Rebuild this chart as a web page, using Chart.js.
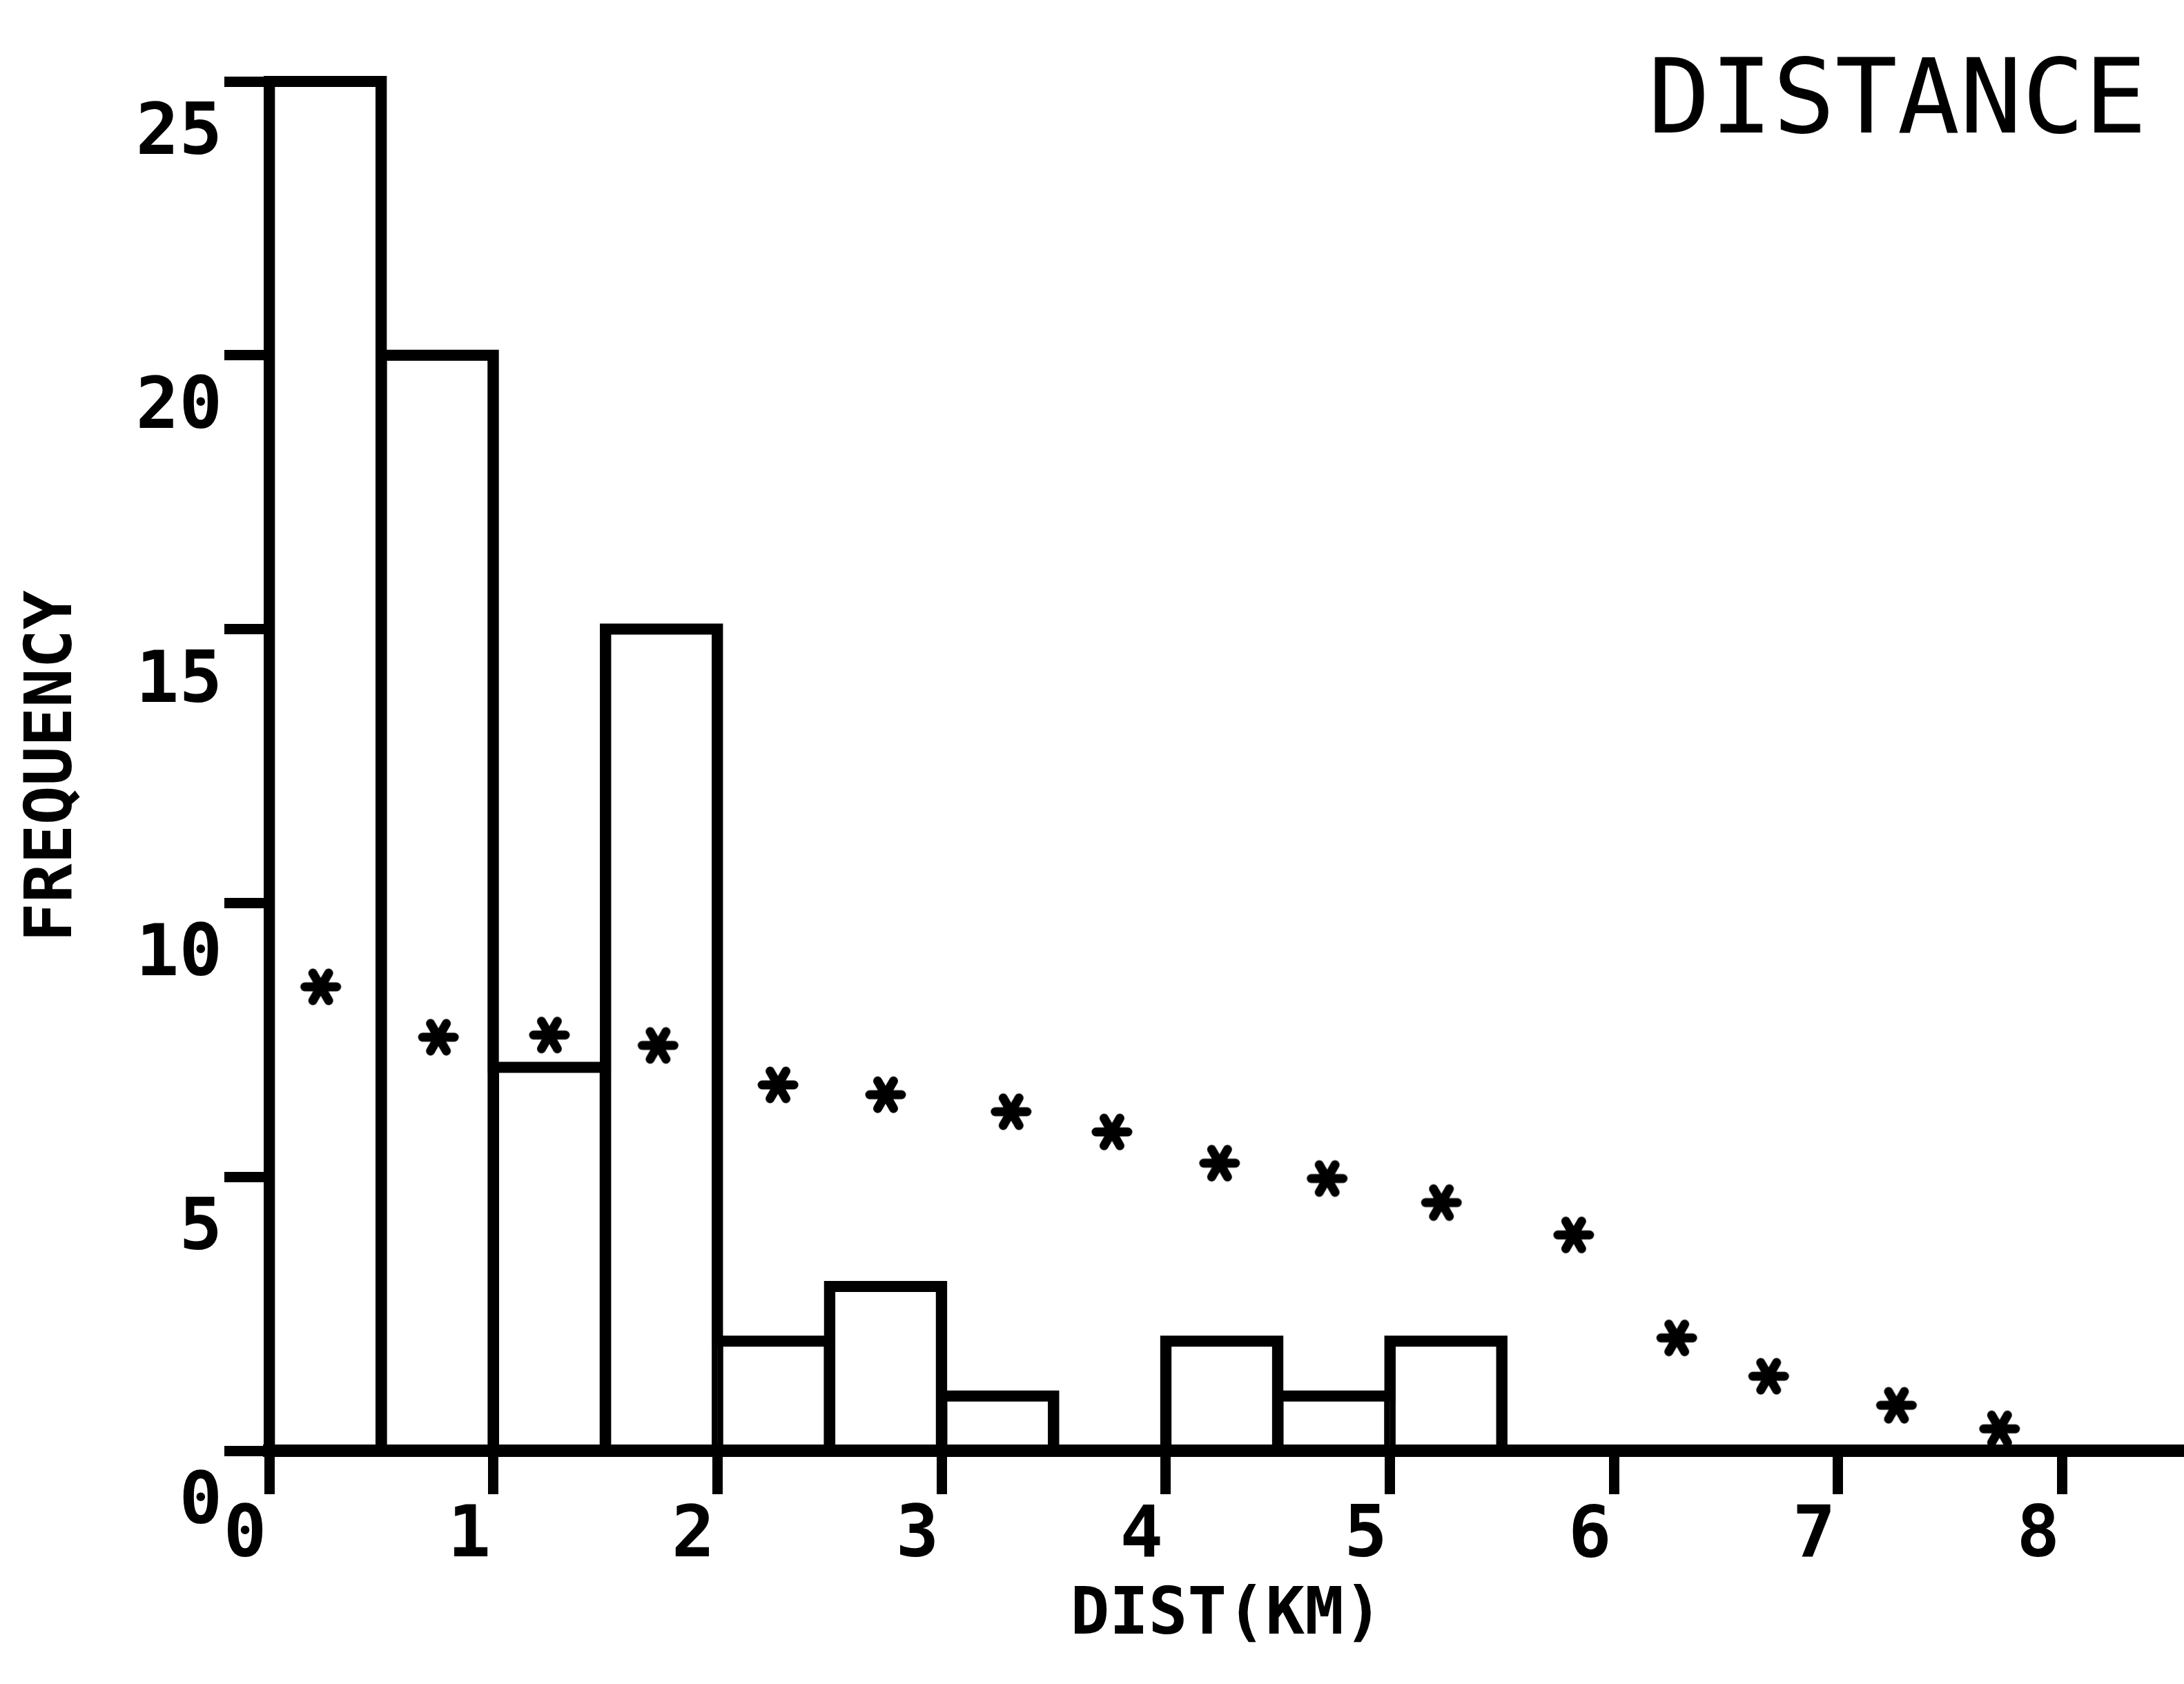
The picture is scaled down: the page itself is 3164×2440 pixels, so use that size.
<!DOCTYPE html>
<html>
<head>
<meta charset="utf-8">
<script src="https://cdn.jsdelivr.net/npm/chart.js@4/dist/chart.umd.min.js"></script>
<style>
html,body{margin:0;padding:0;background:#fff;}
#wrap{width:3164px;height:2440px;position:relative;background:#fff;}
canvas{display:block;}
</style>
</head>
<body>
<div id="wrap"><canvas id="c" width="3164" height="2440"></canvas></div>
<script>
// ---- data ----
const binStarts = [0, 0.5, 1, 1.5, 2, 2.5, 3, 3.5, 4, 4.5, 5];
const binWidth = 0.5;
const binCounts = [25, 20, 7, 15, 2, 3, 1, 0, 2, 1, 2];
const starX = [0.23, 0.755, 1.25, 1.735, 2.27, 2.75, 3.31, 3.76, 4.24, 4.72, 5.23, 5.82, 6.28, 6.69, 7.26, 7.72];
const starY = [8.47, 7.55, 7.59, 7.40, 6.68, 6.50, 6.19, 5.82, 5.25, 4.97, 4.53, 3.94, 2.06, 1.36, 0.83, 0.40];
const xTicks = [0, 1, 2, 3, 4, 5, 6, 7, 8];
const yTicks = [0, 5, 10, 15, 20, 25];
const chartTitle = 'DISTANCE';
const xTitle = 'DIST(KM)';
const yTitle = 'FREQUENCY';

// ---- derived structures ----
const barData = binStarts.map((s, i) => ({ x: s + binWidth / 2, y: binCounts[i] }));
const outline = [{ x: binStarts[0], y: 0 }]
  .concat(binStarts.map((s, i) => ({ x: s, y: binCounts[i] })))
  .concat([{ x: binStarts[binStarts.length - 1] + binWidth, y: 0 }]);
const starData = starX.map((x, i) => ({ x: x, y: starY[i] }));

function makeAsterisk() {
  const c = document.createElement('canvas');
  c.width = 66; c.height = 66;
  const g = c.getContext('2d');
  g.strokeStyle = '#000';
  g.lineWidth = 13;
  g.lineCap = 'round';
  g.translate(33, 33);
  [0, 60, 120].forEach(a => {
    const r = a * Math.PI / 180;
    g.beginPath();
    g.moveTo(-23 * Math.cos(r), -23 * Math.sin(r));
    g.lineTo(23 * Math.cos(r), 23 * Math.sin(r));
    g.stroke();
  });
  return c;
}

const cornerTitle = {
  id: 'cornerTitle',
  afterDraw(chart, args, opts) {
    const ctx = chart.ctx;
    ctx.save();
    ctx.font = opts.font;
    ctx.fillStyle = opts.color;
    ctx.textAlign = 'right';
    ctx.textBaseline = 'alphabetic';
    ctx.fillText(opts.text, chart.width - opts.right, opts.baseline);
    ctx.restore();
  }
};

const FONT = "'DejaVu Sans Mono', 'Liberation Mono', monospace";

new Chart(document.getElementById('c'), {
  type: 'bar',
  data: {
    datasets: [
      {
        type: 'bar',
        data: barData,
        backgroundColor: 'rgba(0,0,0,0)',
        borderColor: '#000',
        borderWidth: { left: 8, right: 8, top: 0, bottom: 0 },
        borderSkipped: false,
        barPercentage: 1,
        categoryPercentage: 1
      },
      {
        type: 'line',
        data: outline,
        stepped: true,
        borderColor: '#000',
        borderWidth: 16,
        borderJoinStyle: 'miter',
        borderCapStyle: 'butt',
        pointRadius: 0,
        fill: false,
        clip: false
      },
      {
        type: 'scatter',
        data: starData,
        pointStyle: makeAsterisk(),
        pointRadius: 28,
        showLine: false,
        clip: false
      }
    ]
  },
  options: {
    responsive: false,
    devicePixelRatio: 1,
    animation: false,
    layout: { autoPadding: false, padding: { top: 118, left: 0, right: 0, bottom: 0 } },
    plugins: {
      legend: { display: false },
      tooltip: { enabled: false },
      title: { display: false },
      cornerTitle: { text: chartTitle, font: "150px " + FONT, color: '#000', right: 54, baseline: 192 }
    },
    scales: {
      x: {
        type: 'linear',
        min: 0,
        max: 8.543,
        offset: false,
        afterBuildTicks: s => { s.ticks = xTicks.map(v => ({ value: v })); },
        afterFit: s => { s.height = 338; s.paddingLeft = 0; s.paddingRight = 0; },
        grid: { drawOnChartArea: false, drawTicks: true, tickLength: 63, lineWidth: 15, color: '#000', offset: false },
        border: { display: true, width: 18, color: '#000' },
        ticks: {
          color: '#000',
          font: { family: FONT, size: 104, weight: 'bold', lineHeight: 1 },
          padding: 11,
          labelOffset: -35,
          maxRotation: 0,
          autoSkip: false,
          includeBounds: false
        },
        title: {
          display: true,
          text: xTitle,
          color: '#000',
          font: { family: FONT, size: 94, weight: 'bold', lineHeight: 1 },
          padding: { top: 0, bottom: 50 }
        }
      },
      y: {
        type: 'linear',
        min: 0,
        max: 25,
        afterBuildTicks: s => { s.ticks = yTicks.map(v => ({ value: v })); },
        afterFit: s => { s.width = 390; s.paddingTop = 0; s.paddingBottom = 0; },
        grid: { drawOnChartArea: false, drawTicks: true, tickLength: 65, lineWidth: 15, color: '#000' },
        border: { display: true, width: 16, color: '#000' },
        ticks: {
          color: '#000',
          font: { family: FONT, size: 104, weight: 'bold', lineHeight: 1 },
          padding: 3,
          labelOffset: 78,
          autoSkip: false,
          includeBounds: false
        },
        title: {
          display: true,
          text: yTitle,
          color: '#000',
          font: { family: FONT, size: 94, weight: 'bold', lineHeight: 1 },
          padding: { top: 32, bottom: 0 }
        }
      }
    }
  },
  plugins: [cornerTitle]
});
</script>
</body>
</html>
